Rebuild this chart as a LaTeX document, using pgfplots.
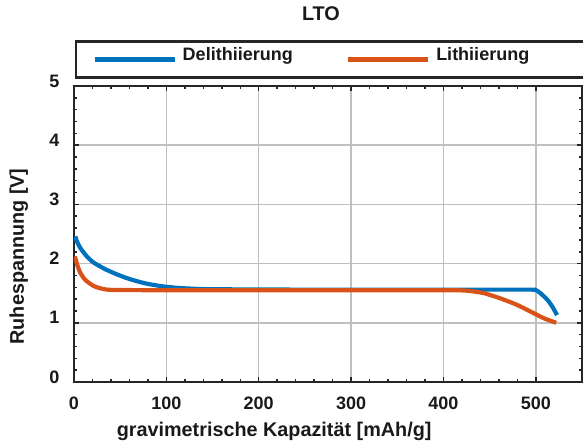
\documentclass[border=0pt]{standalone}
\usepackage{fontspec}
\setmainfont{Liberation Sans}
\usepackage{pgfplots}
\pgfplotsset{compat=1.18}
\usetikzlibrary{calc}

\definecolor{mblue}{RGB}{0,114,189}
\definecolor{morange}{RGB}{217,83,25}
\definecolor{axgray}{RGB}{38,38,38}

\newcommand{\tickfont}{\fontsize{18}{18}\selectfont\bfseries}
\newcommand{\labelfont}{\fontsize{19.8}{20}\selectfont\bfseries}

\begin{document}
\begin{tikzpicture}
\begin{axis}[
  scale only axis, width=508pt, height=296pt,
  xmin=0, xmax=550, ymin=0, ymax=5,
  xtick={0,100,...,500}, ytick={0,1,...,5},
  minor x tick num=4, minor y tick num=4,
  tick align=inside, major tick length=5pt, minor tick length=3pt,
  every tick/.style={axgray, line width=1.5pt},
  axis line style={axgray, line width=2.5pt},
  grid=major, major grid style={black!25, line width=1.5pt},
  /pgf/number format/assume math mode=true,
  ticklabel style={font=\tickfont, text=black!90},
  xticklabel style={inner sep=0pt, anchor=north, yshift=-15pt},
  yticklabel style={inner sep=0pt, anchor=east, xshift=-14.5pt, yshift=5pt},
  title={LTO},
  title style={at={(axis description cs:0.486,1)}, anchor=base, yshift=59.3pt, font=\labelfont, text=black!90},
  xlabel={gravimetrische Kapazität [mAh/g]},
  xlabel style={at={(axis description cs:0.394,0)}, anchor=base, yshift=-55pt, font=\labelfont, text=black!90},
  ylabel={Ruhespannung [V]},
  ylabel style={at={($(axis description cs:0,0.424)+(-50pt,0)$)}, anchor=base, font=\labelfont, text=black!90},
  legend columns=2,
  legend cell align=left,
  legend image code/.code={\draw[#1, line width=4.5pt, line cap=butt] (0pt,0pt) -- (80pt,0pt);},
  legend style={at={(axis description cs:0,1)}, anchor=south west, xshift=1pt, yshift=7pt,
    draw=axgray, /tikz/line width=2.5pt, inner xsep=16pt, inner ysep=0pt,
    font=\tickfont, text=black!90,
    nodes={inner sep=0pt, text height=19pt, text depth=17pt}},
]
% Delithiierung
\addplot[mblue, line width=4.2pt, smooth, tension=0.4] coordinates {
  (1.5,2.46) (3,2.38) (7,2.26) (14,2.12) (21,2.02) (32,1.92) (43,1.84)
  (58,1.75) (76,1.67) (94,1.62) (112,1.59) (137,1.57) (170,1.565)
  (250,1.56) (350,1.56) (450,1.56) (495,1.56) (500,1.553) (505,1.50)
  (512.7,1.385) (518,1.27) (523,1.13)
};
\addlegendentry{\makebox[169pt][l]{\hspace{6pt}Delithiierung}}
% Lithiierung
\addplot[morange, line width=4.2pt, smooth, tension=0.4] coordinates {
  (1,2.12) (3.5,1.98) (7,1.84) (12.5,1.72) (21.5,1.62) (32,1.57) (43,1.555)
  (100,1.55) (200,1.55) (300,1.55) (400,1.55) (419,1.548) (430,1.535)
  (444,1.50) (462,1.41) (480,1.30) (498,1.16) (509,1.075) (522,1.00)
};
\addlegendentry{\makebox[145pt][l]{\hspace{6pt}Lithiierung}}
\coordinate (bl) at (rel axis cs:0,0);
\coordinate (tr) at (rel axis cs:1,1);
\end{axis}
\pgfresetboundingbox
\path[use as bounding box] ($(bl)+(-74pt,-66pt)$) rectangle ($(tr)+(1pt,86pt)$);
\end{tikzpicture}
\end{document}
